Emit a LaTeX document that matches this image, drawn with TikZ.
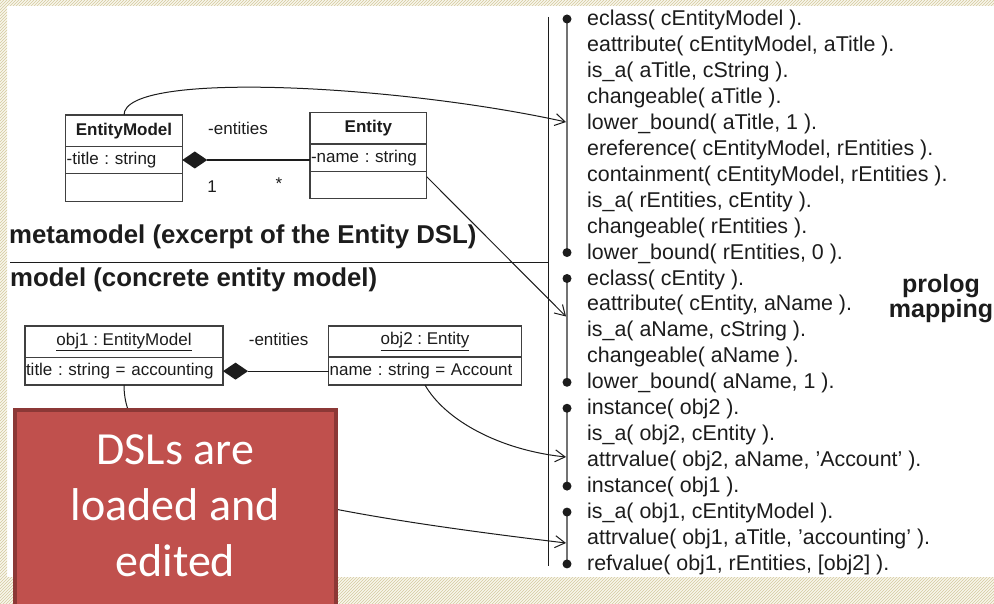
\documentclass[tikz,border=0pt]{standalone}
\usepackage{fontspec}
\setmainfont{Liberation Sans}
\newfontfamily\notefont{Carlito}
\usetikzlibrary{arrows.meta,shapes.geometric,patterns,calc}

\definecolor{hatch}{RGB}{212,202,158}
\definecolor{hatchbg}{RGB}{248,246,236}
\definecolor{notefill}{RGB}{192,80,77}
\definecolor{noteedge}{RGB}{140,56,54}
\definecolor{ink}{RGB}{28,28,28}

\begin{document}
\frenchspacing
\begin{tikzpicture}[x=1pt,y=-1pt,
  cell/.style={draw=black!75, line width=1.1pt, inner sep=0pt, outer sep=0pt,
    anchor=north west, text=ink, font=\fontsize{17}{20}\selectfont},
  cellname/.style={cell, font=\fontsize{17}{20}\selectfont\bfseries},
  cellattr/.style={cell, align=left, inner xsep=1pt},
  comp/.style={diamond, fill=ink, draw=none, inner sep=0pt, outer sep=0pt,
    minimum width=25pt, minimum height=17pt},
  assoc/.style={draw=ink, line width=1.1pt},
  lbl/.style={text=ink, inner sep=0pt, font=\fontsize{17}{20}\selectfont},
  head/.style={text=ink, inner sep=0pt, font=\fontsize{25.8}{30}\selectfont\bfseries},
  conn/.style={draw=ink, line width=1pt, -{Straight Barb[length=10pt,width=12pt]}},
  rail/.style={draw=ink, line width=1.1pt},
  bracket/.style={draw=black!55, line width=2.6pt},
  prl/.style={text=ink, inner sep=0pt, anchor=west, font=\fontsize{21.4}{25}\selectfont},
  notebox/.style={fill=notefill, draw=noteedge, line width=3.5pt, inner sep=0pt, outer sep=0pt},
  notetext/.style={text=white, align=center, inner sep=0pt, font=\notefont\fontsize{46}{56}\selectfont}
]
\useasboundingbox (0,0) rectangle (994,604);

% hatched slide background around the white canvas
\fill[white] (0,0) rectangle (994,604);
\foreach \xa/\ya/\xb/\yb in {0/0/994/6, 0/0/7/604, 0/577/994/604} {
  \fill[hatchbg] (\xa,\ya) rectangle (\xb,\yb);
  \fill[pattern=north east lines, pattern color=hatch] (\xa,\ya) rectangle (\xb,\yb);
}

% ---------- metamodel classes ----------
\node[cellname, minimum width=116.6pt, minimum height=31.7pt] (emName) at (65.7,115) {EntityModel};
\node[cellattr, text width=114.6pt, minimum height=26.6pt] (emAttr) at (emName.south west) {-title : string};
\node[cell, minimum width=116.6pt, minimum height=28.4pt] (emOps) at (emAttr.south west) {};

\node[cellname, minimum width=116.7pt, minimum height=31.7pt] (enName) at (310,112.3) {Entity};
\node[cellattr, text width=114.7pt, minimum height=27.7pt] (enAttr) at (enName.south west) {-name : string};
\node[cell, minimum width=116.7pt, minimum height=26.6pt] (enOps) at (enAttr.south west) {};

\node[comp, anchor=west] (dm1) at (emAttr.east) {};
\draw[assoc] (dm1.east) -- (dm1.east -| enAttr.west);
\node[lbl] (role1) at (238,128) {-entities};
\node[lbl] (mult1) at (212,187) {1};
\node[lbl] (mult2) at (279,184) {*};

% ---------- section captions ----------
\node[head, anchor=west] (meta) at (9,237) {metamodel (excerpt of the Entity DSL)};
\node[head, anchor=west] (model) at (10,280) {model (concrete entity model)};
\node[head, align=center, font=\fontsize{25}{25}\selectfont\bfseries] (mapping) at (941,299) {prolog\\mapping};

\coordinate (railTop) at (548.5,17);
\coordinate (railBot) at (548.5,566);
\draw[rail] (railTop) -- (railBot);
\coordinate (sepL) at (10,262.5);
\draw[rail] (sepL) -- (sepL -| railTop);

% ---------- model objects ----------
\node[cell, minimum width=198pt, minimum height=31.3pt] (o1Name) at (25,326) {\underline{obj1 : EntityModel}};
\node[cellattr, text width=196pt, minimum height=27.7pt] (o1Attr) at (o1Name.south west) {title : string = accounting};
\node[cell, minimum width=192.8pt, minimum height=31pt] (o2Name) at (328.6,326) {\underline{obj2 : Entity}};
\node[cellattr, text width=190.8pt, minimum height=28pt] (o2Attr) at (o2Name.south west) {name : string = Account};

\node[comp, anchor=west] (dm2) at (o1Attr.east) {};
\draw[assoc] (dm2.east) -- (dm2.east -| o2Attr.west);
\node[lbl] (role2) at (278.6,339) {-entities};

% ---------- prolog facts ----------
\foreach \txt [count=\i from 0] in {
  {eclass( cEntityModel ).},
  {eattribute( cEntityModel, aTitle ).},
  {is\_a( aTitle, cString ).},
  {changeable( aTitle ).},
  {lower\_bound( aTitle, 1 ).},
  {ereference( cEntityModel, rEntities ).},
  {containment( cEntityModel, rEntities ).},
  {is\_a( rEntities, cEntity ).},
  {changeable( rEntities ).},
  {lower\_bound( rEntities, 0 ).},
  {eclass( cEntity ).},
  {eattribute( cEntity, aName ).},
  {is\_a( aName, cString ).},
  {changeable( aName ).},
  {lower\_bound( aName, 1 ).},
  {instance( obj2 ).},
  {is\_a( obj2, cEntity ).},
  {attrvalue( obj2, aName, 'Account' ).},
  {instance( obj1 ).},
  {is\_a( obj1, cEntityModel ).},
  {attrvalue( obj1, aTitle, 'accounting' ).},
  {refvalue( obj1, rEntities, [obj2] ).}} {
  \node[prl] (p\i) at (587,{20+25.95*\i}) {\txt};
}

% groups of facts
\foreach \a/\b in {0/9, 10/14, 15/18, 19/21}
  \draw[bracket] ($(p\a.west)+(-20,-1)$) -- ($(p\b.west)+(-20,-1)$);
\foreach \i in {0,9,10,14,15,18,19,21}
  \fill[ink] ($(p\i.west)+(-20,-1)$) circle (4.5pt);

% ---------- mapping arrows ----------
\coordinate (t1) at (566,122);
\coordinate (t2) at (566,316.5);
\coordinate (t3) at (566,457);
\coordinate (t4) at (566,543);
\draw[conn] (emName.north) .. controls +(0,-45) and +(-167,-37) .. (t1);
\draw[conn] ($(enOps.north east)+(0,5)$) -- (t2);
\draw[conn] (o2Attr.south) .. controls +(20,35) and +(-67,-7) .. (t3);
\draw[conn] (o1Attr.south) .. controls +(0,85) and +(-317,-38) .. (t4);

% ---------- callout ----------
\node[notebox, anchor=north west, minimum width=321pt, minimum height=215pt] (note) at (14.75,409.75) {};
\node[notetext] (notetxt) at ($(note.north)+(0,96.25)$) {DSLs are\\loaded and\\edited};

\end{tikzpicture}
\end{document}
